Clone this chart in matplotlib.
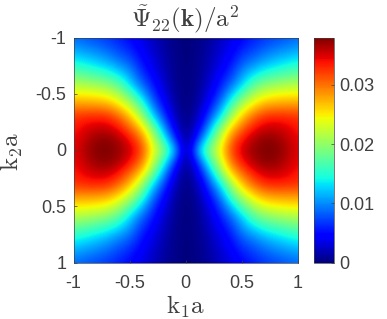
import numpy as np
import matplotlib
matplotlib.use('Agg')
import matplotlib.pyplot as plt

plt.rcParams['font.family'] = ['Liberation Sans', 'DejaVu Sans']
plt.rcParams['mathtext.fontset'] = 'cm'

# one quadrant, rows k2 = 0..1, columns k1 = 0..1
k_vals = [0, .1, .2, .3, .4, .5, .6, .7, .8, .9, 1]
quadrant = [
    [0, .0115, .0190, .0243, .0320, .0355, .0372, .0380, .0378, .0365, .0345],
    [0, .0065, .0150, .0225, .0300, .0340, .0365, .0376, .0373, .0358, .0342],
    [0, .0035, .0105, .0190, .0262, .0305, .0338, .0355, .0355, .0347, .0335],
    [0, .0020, .0072, .0132, .0212, .0268, .0305, .0328, .0332, .0330, .0325],
    [0, .0012, .0050, .0095, .0168, .0222, .0258, .0280, .0285, .0287, .0287],
    [0, .0008, .0035, .0070, .0120, .0172, .0212, .0235, .0243, .0247, .0248],
    [0, .0006, .0026, .0055, .0085, .0125, .0168, .0188, .0198, .0205, .0210],
    [0, .0005, .0020, .0042, .0065, .0102, .0125, .0145, .0155, .0165, .0172],
    [0, .0004, .0016, .0033, .0052, .0078, .0092, .0108, .0120, .0130, .0138],
    [0, .0003, .0013, .0027, .0042, .0060, .0072, .0085, .0095, .0102, .0110],
    [0, .0003, .0010, .0022, .0035, .0048, .0058, .0068, .0074, .0081, .0088],
]
ticks = [-1, -0.5, 0, 0.5, 1]
tick_labels = ['-1', '-0.5', '0', '0.5', '1']
cbar_ticks = [0, 0.01, 0.02, 0.03]
cbar_labels = ['0', '0.01', '0.02', '0.03']

q = np.array(quadrant)
half = np.hstack([q[:, :0:-1], q])
Z = np.vstack([half[:0:-1], half])

W, H = 387, 319
fig = plt.figure(figsize=(W / 100, H / 100), dpi=100)
ax = fig.add_axes([73.5 / W, 1 - 262.5 / H, 224.5 / W, 225 / H])
im = ax.imshow(Z, cmap='jet', vmin=0, vmax=0.038, extent=[-1.05, 1.05, 1.05, -1.05],
               interpolation='bicubic', aspect='auto')
ax.set_xlim(-1, 1)
ax.set_ylim(1, -1)
gray = '#404040'
ax.set_xticks(ticks)
ax.set_xticklabels(tick_labels)
ax.set_yticks(ticks)
ax.set_yticklabels(tick_labels)
ax.tick_params(direction='in', length=2.5, width=0.5, labelsize=13, colors=gray, pad=5)
ax.tick_params(axis='x', pad=9)
for s in ax.spines.values():
    s.set_linewidth(0.5)
    s.set_color(gray)
fig.text(185.5 / W, 1 - 307 / H, r'$\mathrm{k}_1\mathrm{a}$', fontsize=18, color=gray, ha='center', va='center')
fig.text(12 / W, 1 - 151 / H, r'$\mathrm{k}_2\mathrm{a}$', fontsize=18, color=gray, ha='center', va='center', rotation=90)
fig.text(185 / W, 1 - 19 / H, r'$\tilde{\Psi}_{22}(\mathbf{k})/\mathrm{a}^2$', fontsize=18, color=gray, ha='center', va='center')

cax = fig.add_axes([313.5 / W, 1 - 262.5 / H, 20.5 / W, 225 / H])
cb = fig.colorbar(im, cax=cax)
cb.set_ticks(cbar_ticks)
cb.set_ticklabels(cbar_labels)
cax.tick_params(direction='in', length=2.5, width=0.5, labelsize=13, colors=gray, pad=4)
cb.outline.set_linewidth(0.5)
cb.outline.set_edgecolor(gray)

fig.savefig('out.png', dpi=100)
